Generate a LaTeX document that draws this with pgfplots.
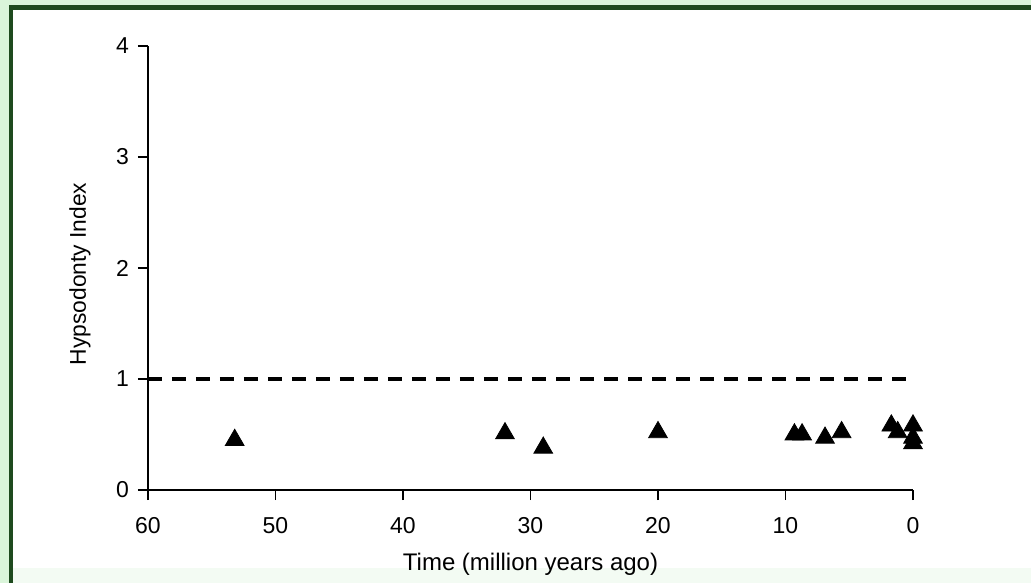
\documentclass[border=0pt]{standalone}
\usepackage{pgfplots}
\pgfplotsset{compat=1.18}
\usepackage{fontspec}
\setmainfont{Liberation Sans}
\definecolor{framedark}{HTML}{1E4A1E}
\definecolor{framelight}{HTML}{DAF5DA}
\definecolor{framefaint}{HTML}{F3FBF3}

\begin{document}
\begin{tikzpicture}[x=0.5pt,y=0.5pt]
  % page frame: light margin, dark green rule on left and top
  \fill[framelight] (0,0) rectangle (1031,583);
  \fill[framefaint] (13,0) rectangle (1031,573);
  \fill[white] (13,15) rectangle (1031,573);
  \fill[framedark] (9,0) rectangle (13,578);
  \fill[framedark] (9,573) rectangle (1031,578);
  \useasboundingbox (0,0) rectangle (1031,583);

  \begin{axis}[
    at={(74pt,46.5pt)}, anchor=south west,
    scale only axis,
    width=382.5pt, height=222pt,
    x dir=reverse,
    xmin=0, xmax=60, ymin=0, ymax=4,
    xtick={0,10,...,60}, ytick={0,1,2,3,4},
    axis lines*=left,
    axis line style={line width=0.9pt, -},
    tick align=outside,
    major tick length=5pt,
    every tick/.style={black, line width=0.9pt},
    xticklabel style={font=\fontsize{11.5}{13}\selectfont, yshift=-5pt},
    yticklabel style={font=\fontsize{11.5}{13}\selectfont, xshift=-1pt},
    /pgf/number format/assume math mode=true,
    xlabel={Time (million years ago)},
    ylabel={Hypsodonty Index},
    every axis x label/.style={at={(axis description cs:0.5,0)}, anchor=center, yshift=-37pt,
      font=\fontsize{12}{14}\selectfont},
    every axis y label/.style={at={(axis description cs:0,0.5)}, anchor=center, rotate=90,
      yshift=34pt, xshift=-3pt, font=\fontsize{11.4}{14}\selectfont},
    clip=false,
  ]
    % reference level: hypsodonty index of 1
    \addplot[black, line width=1.7pt, dash pattern=on 7pt off 5pt] coordinates {(60,1) (0,1)};
    % species
    \addplot[only marks, mark=triangle*, mark size=5.4pt, mark options={fill=black, draw=black}]
      coordinates {
        (53.2,0.45) (32.0,0.51) (29.0,0.38) (20.0,0.52)
        (9.3,0.50) (8.7,0.50) (6.9,0.47) (5.6,0.52)
        (1.7,0.58) (1.2,0.52) (0.0,0.58) (0.0,0.47) (0.0,0.42)
      };
  \end{axis}
\end{tikzpicture}
\end{document}
